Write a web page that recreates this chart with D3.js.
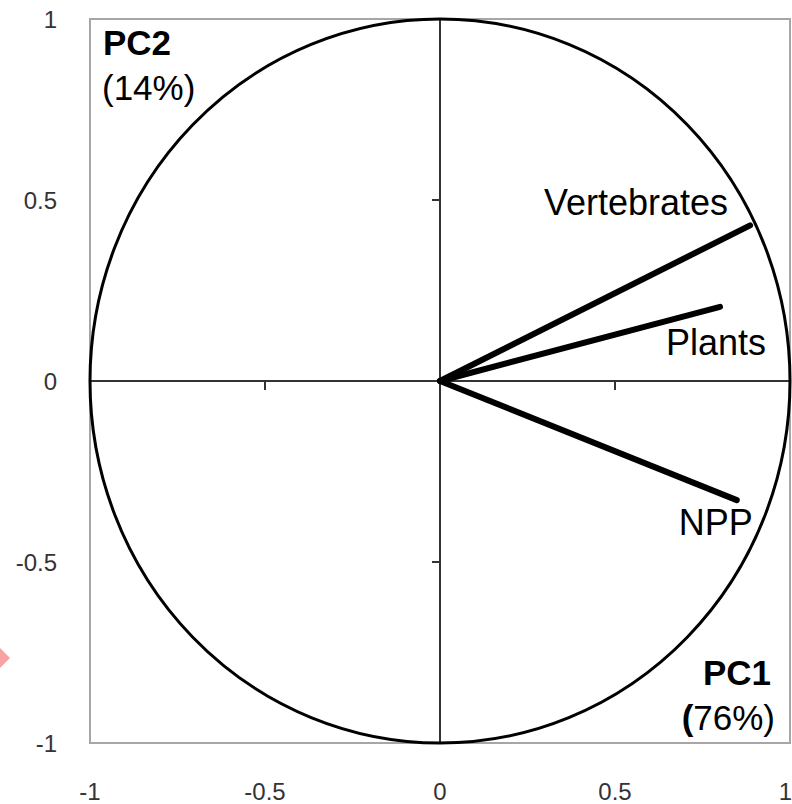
<!DOCTYPE html>
<html>
<head>
<meta charset="utf-8">
<script src="https://cdn.jsdelivr.net/npm/d3@7"></script>
<style>
  html, body { margin: 0; padding: 0; background: #fff; }
  svg { display: block; }
</style>
</head>
<body>
<svg id="chart" width="792" height="804"></svg>
<script>
// Data
const variables = ["Vertebrates", "Plants", "NPP"];
const pc1Loadings = [0.886, 0.80, 0.848];
const pc2Loadings = [0.430, 0.205, -0.329];
const xTicks = [-1, -0.5, 0, 0.5, 1];
const yTicks = [-1, -0.5, 0, 0.5, 1];
const tickLabels = ["-1", "-0.5", "0", "0.5", "1"];
const axisTitles = [
  { name: "PC1", pct: "76%" },
  { name: "PC2", pct: "14%" }
];

const FONT = "Liberation Sans, Arial, sans-serif";
const svg = d3.select("#chart");
const x = d3.scaleLinear().domain([-1, 1]).range([90, 790]);
const y = d3.scaleLinear().domain([-1, 1]).range([743, 19]);

// Pink artifact diamond at left edge
svg.append("path")
  .attr("d", "M0,648 L10,658 L0,668 L-10,658 Z")
  .attr("fill", "#f7a3a3");

// Frame
svg.append("rect")
  .attr("x", x(-1)).attr("y", y(1))
  .attr("width", x(1) - x(-1)).attr("height", y(-1) - y(1))
  .attr("fill", "none").attr("stroke", "#a6a6a6").attr("stroke-width", 2);

// Axis lines through origin
svg.append("line")
  .attr("x1", x(-1)).attr("x2", x(1)).attr("y1", y(0)).attr("y2", y(0))
  .attr("stroke", "#333").attr("stroke-width", 2);
svg.append("line")
  .attr("x1", x(0)).attr("x2", x(0)).attr("y1", y(1)).attr("y2", y(-1))
  .attr("stroke", "#333").attr("stroke-width", 2);

// Small ticks at +-0.5
svg.selectAll(".xt").data([-0.5, 0.5]).enter().append("line")
  .attr("x1", d => x(d)).attr("x2", d => x(d))
  .attr("y1", y(0)).attr("y2", y(0) + 9)
  .attr("stroke", "#333").attr("stroke-width", 2);
svg.selectAll(".yt").data([-0.5, 0.5]).enter().append("line")
  .attr("x1", x(0) - 8).attr("x2", x(0))
  .attr("y1", d => y(d)).attr("y2", d => y(d))
  .attr("stroke", "#333").attr("stroke-width", 2);

// Correlation circle
svg.append("ellipse")
  .attr("cx", x(0)).attr("cy", y(0))
  .attr("rx", x(1) - x(0)).attr("ry", y(0) - y(1))
  .attr("fill", "none").attr("stroke", "#000").attr("stroke-width", 3);

// Tick labels
svg.selectAll(".xl").data(xTicks).enter().append("text")
  .attr("x", d => d === 1 ? 792 : x(d)).attr("y", 800)
  .attr("text-anchor", d => d === 1 ? "end" : "middle")
  .attr("font-family", FONT)
  .attr("font-size", 24).attr("fill", "#333")
  .text((d, i) => tickLabels[i]);
svg.selectAll(".yl").data(yTicks).enter().append("text")
  .attr("x", 57).attr("y", d => y(d) + 9)
  .attr("text-anchor", "end")
  .attr("font-family", FONT)
  .attr("font-size", 24).attr("fill", "#333")
  .text((d, i) => tickLabels[i]);

// Vectors
svg.selectAll(".vec").data(variables).enter().append("line")
  .attr("x1", x(0)).attr("y1", y(0))
  .attr("x2", (d, i) => x(pc1Loadings[i]))
  .attr("y2", (d, i) => y(pc2Loadings[i]))
  .attr("stroke", "#000").attr("stroke-width", 6)
  .attr("stroke-linecap", "round");

// Vector labels
const labelPos = [
  { dx: -22, dy: -10 },
  { dx: 46, dy: 48 },
  { dx: 16, dy: 35 }
];
svg.selectAll(".vl").data(variables).enter().append("text")
  .attr("x", (d, i) => x(pc1Loadings[i]) + labelPos[i].dx)
  .attr("y", (d, i) => y(pc2Loadings[i]) + labelPos[i].dy)
  .attr("text-anchor", "end")
  .attr("font-family", FONT)
  .attr("font-size", 36).attr("fill", "#000")
  .text(d => d);

// Axis titles
const t2 = svg.append("g");
t2.append("text").attr("x", 103).attr("y", 55)
  .attr("font-family", FONT)
  .attr("font-size", 35).attr("font-weight", "bold")
  .text(axisTitles[1].name);
t2.append("text").attr("x", 102).attr("y", 100)
  .attr("font-family", FONT)
  .attr("font-size", 35)
  .text("(" + axisTitles[1].pct + ")");

const t1 = svg.append("g");
t1.append("text").attr("x", 771).attr("y", 685)
  .attr("text-anchor", "end")
  .attr("font-family", FONT)
  .attr("font-size", 35).attr("font-weight", "bold")
  .text(axisTitles[0].name);
const p1 = t1.append("text").attr("x", 775).attr("y", 730)
  .attr("text-anchor", "end")
  .attr("font-family", FONT)
  .attr("font-size", 35);
p1.append("tspan").attr("font-weight", "bold").text("(");
p1.append("tspan").text(axisTitles[0].pct + ")");
</script>
</body>
</html>
